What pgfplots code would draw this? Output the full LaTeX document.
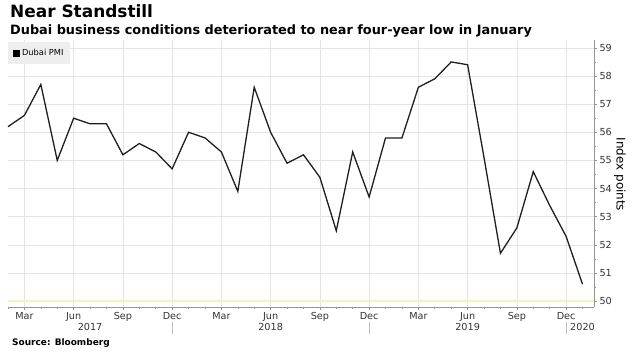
\documentclass[border=0pt]{standalone}
\usepackage{pgfplots}
\pgfplotsset{compat=1.18}
\usepackage{fontspec}
\setmainfont{DejaVu Sans}
\definecolor{gridc}{RGB}{228,228,228}
\definecolor{axc}{RGB}{150,150,150}
\definecolor{yel}{RGB}{248,244,185}
\definecolor{legbg}{RGB}{238,238,238}
\pgfplotstableread{
m v
1 56.2
2 56.6
3 57.7
4 55.0
5 56.5
6 56.3
7 56.3
8 55.2
9 55.6
10 55.3
11 54.7
12 56.0
13 55.8
14 55.3
15 53.9
16 57.6
17 56.0
18 54.9
19 55.2
20 54.4
21 52.5
22 55.3
23 53.7
24 55.8
25 55.8
26 57.6
27 57.9
28 58.5
29 58.4
30 55.1
31 51.7
32 52.6
33 54.6
34 53.4
35 52.3
36 50.6
}\pmi
\begin{document}
\begin{tikzpicture}
\path[use as bounding box] (0bp,0bp) rectangle (635bp,361bp);
\node[anchor=base west, font=\bfseries\fontsize{17}{19}\selectfont, inner sep=0] at (10bp,343.5bp) {Near Standstill};
\node[anchor=base west, font=\bfseries\fontsize{12.9}{14}\selectfont, inner sep=0] at (10bp,326.8bp) {Dubai business conditions deteriorated to near four-year low in January};
\node[anchor=base west, font=\bfseries\fontsize{9}{10}\selectfont, inner sep=0] at (12bp,16bp) {Source: Bloomberg};
\node[rotate=-90, font=\fontsize{12}{13}\selectfont, inner sep=0] at (620bp,186.5bp) {Index points};
\begin{axis}[
  at={(8bp,54bp)}, anchor=south west, scale only axis,
  width=586bp, height=267bp,
  xmin=1, xmax=36.7, ymin=49.79, ymax=59.28,
  axis x line*=bottom, axis y line*=right,
  axis line style={axc, line width=0.8bp},
  xtick={2,5,8,11,14,17,20,23,26,29,32,35},
  xticklabels={Mar,Jun,Sep,Dec,Mar,Jun,Sep,Dec,Mar,Jun,Sep,Dec},
  minor xtick={1,...,36},
  ytick={50,51,...,59},
  minor ytick={50.5,51.5,...,58.5},
  tick align=outside,
  major tick length=3bp, minor tick length=2bp,
  tick style={axc, line width=0.6bp},
  xmajorgrids, ymajorgrids,
  grid style={gridc, line width=0.6bp},
  ticklabel style={font=\fontsize{9.7}{10}\selectfont, text=black!80},
  xticklabel style={yshift=1bp},
  yticklabel style={xshift=-1bp},
  /pgf/number format/assume math mode=true,
  clip=false,
  legend style={at={(0,1)}, anchor=north west, yshift=-2bp, fill=legbg, draw=none,
    font=\fontsize{8.3}{9}\selectfont, inner xsep=5bp, inner ysep=5bp,
    legend cell align=left},
  legend image code/.code={\fill[black] (0bp,-2.8bp) rectangle (5.6bp,2.8bp);},
]
\addplot[yel, line width=2.5bp, forget plot] coordinates {(1,50) (36.7,50)};
\addplot[black!88, line width=1.3bp] table[x=m, y=v] {\pmi};
\addlegendentry{Dubai PMI}
\draw[gray!50, line width=0.8bp] ([yshift=-15bp]axis cs:11,49.79) -- ([yshift=-27bp]axis cs:11,49.79);
\draw[gray!50, line width=0.8bp] ([yshift=-15bp]axis cs:23,49.79) -- ([yshift=-27bp]axis cs:23,49.79);
\draw[gray!50, line width=0.8bp] ([yshift=-15bp]axis cs:35,49.79) -- ([yshift=-27bp]axis cs:35,49.79);
\node[font=\fontsize{9.7}{10}\selectfont, text=black!80] at ([yshift=-20bp]axis cs:6,49.79) {2017};
\node[font=\fontsize{9.7}{10}\selectfont, text=black!80] at ([yshift=-20bp]axis cs:17,49.79) {2018};
\node[font=\fontsize{9.7}{10}\selectfont, text=black!80] at ([yshift=-20bp]axis cs:29,49.79) {2019};
\node[font=\fontsize{9.7}{10}\selectfont, text=black!80] at ([yshift=-20bp]axis cs:36,49.79) {2020};
\end{axis}
\end{tikzpicture}
\end{document}
